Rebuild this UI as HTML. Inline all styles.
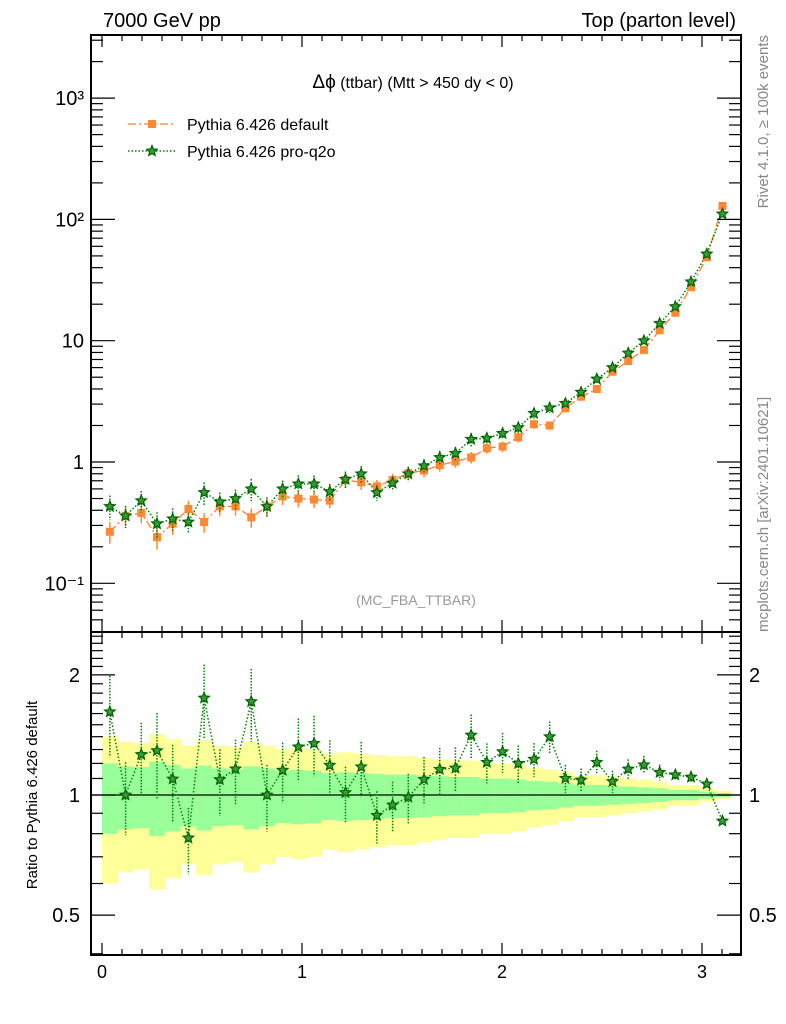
<!DOCTYPE html>
<html><head><meta charset="utf-8"><style>
html,body{margin:0;padding:0;background:#fff;}
svg{display:block;font-family:"Liberation Sans",sans-serif;}
</style></head><body>
<svg id="c" width="786" height="1024" viewBox="0 0 786 1024" xmlns="http://www.w3.org/2000/svg">
<text x="103" y="27" font-size="20">7000 GeV pp</text>
<text x="736" y="27" font-size="20" text-anchor="end">Top (parton level)</text>
<text transform="translate(768,35) rotate(-90)" font-size="15" fill="#888" text-anchor="end">Rivet 4.1.0, ≥ 100k events</text>
<text transform="translate(768,632) rotate(-90)" font-size="15" fill="#888">mcplots.cern.ch [arXiv:2401.10621]</text>
<text x="413" y="88" font-size="16" text-anchor="middle"><tspan font-size="19">Δϕ</tspan> (ttbar) (Mtt &gt; 450 dy &lt; 0)</text>
<text x="416" y="605" font-size="14" fill="#999" text-anchor="middle">(MC_FBA_TTBAR)</text>
<text transform="translate(37,795) rotate(-90)" font-size="15" text-anchor="middle">Ratio to Pythia 6.426 default</text>
<g>
<g>
<line x1="128" y1="124" x2="175" y2="124" stroke="#ff7f2a" stroke-width="1.3" stroke-dasharray="8,3,2,3"/>
<rect x="148" y="120" width="8" height="8" fill="#ff8833"/>
<text x="187" y="130" font-size="16">Pythia 6.426 default</text></g>
<g>
<line x1="128" y1="151" x2="175" y2="151" stroke="#008000" stroke-width="1.5" stroke-dasharray="1.5,2"/>
<path id="legstar" d="" fill="#3a9a3a" stroke="#006400" stroke-width="1.2"/>
<text x="187" y="157" font-size="16">Pythia 6.426 pro-q2o</text></g>
</g>
<g id="bands"></g>
<g id="plot"></g>
<g id="axes"></g>
</svg>
<script>
const orange=[0.266,0.36,0.38,0.24,0.31,0.41,0.32,0.43,0.43,0.35,0.43,0.52,0.50,0.49,0.48,0.71,0.68,0.63,0.71,0.81,0.85,0.94,1.01,1.09,1.30,1.34,1.60,2.05,2.0,2.77,3.45,4.0,5.55,6.8,8.4,12.2,17,27.6,48.7,129];
const green=[0.43,0.36,0.48,0.31,0.34,0.32,0.56,0.47,0.50,0.60,0.43,0.60,0.66,0.66,0.57,0.72,0.80,0.56,0.67,0.80,0.93,1.09,1.18,1.54,1.57,1.72,1.92,2.52,2.80,3.05,3.76,4.83,6.0,7.9,10,13.9,19.1,30.6,51.9,111];
const relErr=[0.20,0.18,0.175,0.21,0.19,0.165,0.185,0.165,0.16,0.18,0.165,0.15,0.155,0.15,0.135,0.14,0.135,0.13,0.125,0.125,0.12,0.115,0.11,0.11,0.10,0.10,0.095,0.085,0.08,0.07,0.06,0.06,0.055,0.05,0.045,0.04,0.03,0.03,0.02,0.012];
const xTicks=[0,1,2,3];
const yMainTicks=[0.1,1,10,100,1000];
const yMainLabels=["10\u207B\u00B9","1","10","10\u00B2","10\u00B3"];
const yRatioTicks=[0.5,1,2];
const yRatioLabels=["0.5","1","2"];
const NB=40, BW=Math.PI/40;
const NS="http://www.w3.org/2000/svg";
const L=91,R=741,T=35,MB=632,RB=955;
const SR=5.5;
const X=v=>102+200*v;
const Y=v=>462-121.3*Math.log10(v);
const YR=v=>795-399*Math.log10(v);
function mk(tag,at,parent){const e=document.createElementNS(NS,tag);for(const k in at)e.setAttribute(k,at[k]);parent.appendChild(e);return e;}
function star(cx,cy,r){let d="";for(let i=0;i<10;i++){const a=-Math.PI/2+i*Math.PI/5;const rr=i%2?r*0.45:r;d+=(i?"L":"M")+(cx+rr*Math.cos(a)).toFixed(1)+","+(cy+rr*Math.sin(a)).toFixed(1);}return d+"Z";}
document.getElementById('legstar').setAttribute('d',star(152,151,SR));
const bands=document.getElementById('bands'),plot=document.getElementById('plot'),axes=document.getElementById('axes');
for(let i=0;i<NB;i++){
 const x0=X(i*BW),x1=X((i+1)*BW),e=relErr[i];
 const yb=mk('rect',{x:x0,y:YR(1+2*e),width:x1-x0+0.5,height:YR(1-2*e)-YR(1+2*e),fill:'#ffff99'},bands);
 
 
 const gb=mk('rect',{x:x0,y:YR(1+e),width:x1-x0+0.5,height:YR(1-e)-YR(1+e),fill:'#99ff99'},bands);
 
 
}
mk('line',{x1:L,x2:R,y1:YR(1),y2:YR(1),stroke:'#000','stroke-width':1.3},bands);
let po="",pg="",pr="";
for(let i=0;i<NB;i++){const xc=X((i+0.5)*BW);po+=(i?"L":"M")+xc+","+Y(orange[i]);pg+=(i?"L":"M")+xc+","+Y(green[i]);pr+=(i?"L":"M")+xc+","+YR(green[i]/orange[i]);}
mk('path',{d:po,fill:'none',stroke:'#ff7f2a','stroke-width':1.3,'stroke-dasharray':'8,3,2,3'},plot);
mk('path',{d:pg,fill:'none',stroke:'#008000','stroke-width':1.5,'stroke-dasharray':'1.5,2'},plot);
mk('path',{d:pr,fill:'none',stroke:'#008000','stroke-width':1.5,'stroke-dasharray':'1.5,2'},plot);
for(let i=0;i<NB;i++){
 const xc=X((i+0.5)*BW),o=orange[i],g=green[i],e=relErr[i],eg=e*1.15,r=g/o;
 const eb=mk('line',{x1:xc,x2:xc,y1:Y(o*(1+e)),y2:Y(o*(1-e)),stroke:'#ff8833','stroke-width':1.5},plot);
 
 
 const sq=mk('rect',{x:xc-4,y:Y(o)-4,width:8,height:8,fill:'#ff8833'},plot);
 
 
 mk('line',{x1:xc,x2:xc,y1:Y(g*(1+eg)),y2:Y(g*(1-eg)),stroke:'#008000','stroke-width':1.5,'stroke-dasharray':'1.5,1.5'},plot);
 const st=mk('path',{d:star(xc,Y(g),SR),fill:'#3a9a3a',stroke:'#006400','stroke-width':1.2},plot);
 
 
 mk('line',{x1:xc,x2:xc,y1:YR(r*(1+eg)),y2:YR(r*(1-eg)),stroke:'#008000','stroke-width':1.5,'stroke-dasharray':'1.5,1.5'},plot);
 const rs=mk('path',{d:star(xc,YR(r),SR),fill:'#3a9a3a',stroke:'#006400','stroke-width':1.2},plot);
 
 
}
const f1=mk('rect',{x:L,y:T,width:R-L,height:MB-T,fill:'none',stroke:'#000','stroke-width':2},axes);


const f2=mk('rect',{x:L,y:MB,width:R-L,height:RB-MB,fill:'none',stroke:'#000','stroke-width':2},axes);


for(let v=0;v<=3.2;v+=0.1){const vv=Math.round(v*10)/10;const x=X(vv);if(x>R)break;const maj=Math.abs(vv-Math.round(vv))<1e-6;const len=maj?12:6;
 for(const [yy,dir] of [[T,1],[MB,-1],[MB,1],[RB,-1]])mk('line',{x1:x,x2:x,y1:yy,y2:yy+dir*len,stroke:'#000','stroke-width':1.2},axes);}
xTicks.forEach(v=>{const t=mk('text',{x:X(v),y:978,'font-size':18,'text-anchor':'middle'},axes);t.textContent=v;
 
 });
for(let d=-2;d<=3;d++)for(let m=1;m<=9;m++){const v=m*Math.pow(10,d);const y=Y(v);if(y<T||y>MB)continue;const len=m==1?24:12;
 mk('line',{x1:L,x2:L+len,y1:y,y2:y,stroke:'#000','stroke-width':1.2},axes);mk('line',{x1:R,x2:R-len,y1:y,y2:y,stroke:'#000','stroke-width':1.2},axes);}
yMainTicks.forEach((v,i)=>{const t=mk('text',{x:84,y:Y(v)+7,'font-size':20,'text-anchor':'end'},axes);t.textContent=yMainLabels[i];
 
 });
for(let v=0.4;v<=2.6;v+=0.1){const vv=Math.round(v*10)/10;const y=YR(vv);if(y<MB||y>RB)continue;const maj=(vv==0.5||vv==1||vv==2);const len=maj?24:12;
 mk('line',{x1:L,x2:L+len,y1:y,y2:y,stroke:'#000','stroke-width':1.2},axes);mk('line',{x1:R,x2:R-len,y1:y,y2:y,stroke:'#000','stroke-width':1.2},axes);}
yRatioTicks.forEach((v,i)=>{const t=mk('text',{x:80,y:YR(v)+7,'font-size':20,'text-anchor':'end'},axes);t.textContent=yRatioLabels[i];
 
 
 const t2=mk('text',{x:749,y:YR(v)+7,'font-size':20},axes);t2.textContent=yRatioLabels[i];
 
 });
</script>
</body></html>
